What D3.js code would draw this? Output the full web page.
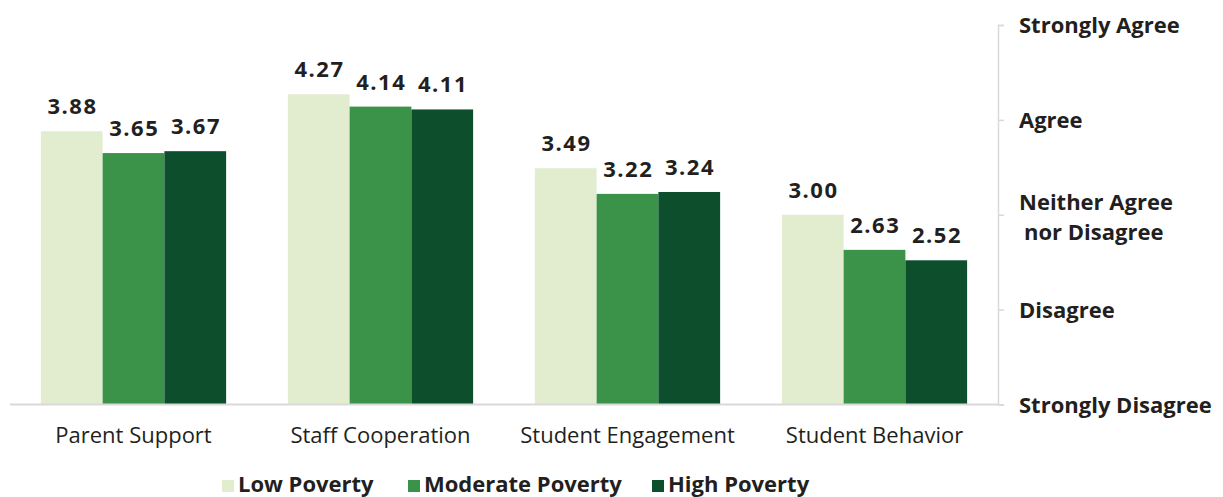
<!DOCTYPE html>
<html><head><meta charset="utf-8">
<script src="https://cdn.jsdelivr.net/npm/d3@7"></script>
<style>body{margin:0;background:#fff}svg{display:block}text{font-family:"Open Sans",sans-serif}</style>
</head><body><svg id="c" width="1223" height="497"></svg>
<script>
const categories = ["Parent Support","Staff Cooperation","Student Engagement","Student Behavior"];
const seriesNames = ["Low Poverty","Moderate Poverty","High Poverty"];
const lowPoverty = [3.88,4.27,3.49,3.00];
const moderatePoverty = [3.65,4.14,3.22,2.63];
const highPoverty = [3.67,4.11,3.24,2.52];
const tickValues = [1,2,3,4,5];
const tickLabels = ["Strongly Disagree","Disagree","Neither Agree\nnor Disagree","Agree","Strongly Agree"];
const colors = ["#e2edd0","#3b934a","#0d4f2d"];

const series = [lowPoverty, moderatePoverty, highPoverty];
const svg = d3.select("#c");
const x0 = d3.scaleBand().domain(categories).range([10,998]).paddingInner(0.25).paddingOuter(0.125);
const x1 = d3.scaleBand().domain(seriesNames).range([0,x0.bandwidth()]);
const y = d3.scaleLinear().domain([1,5]).range([404.5,25]);

const g = svg.append("g");
categories.forEach((c,i)=>{
  seriesNames.forEach((s,j)=>{
    const v = series[j][i];
    g.append("rect").attr("x",x0(c)+x1(s)).attr("y",y(v)).attr("width",x1.bandwidth()).attr("height",y(1)-y(v)).attr("fill",colors[j]);
    g.append("text").attr("x",x0(c)+x1(s)+x1.bandwidth()/2+0.75).attr("y",y(v)-17).attr("text-anchor","middle")
      .attr("font-size",22).attr("font-weight",700).attr("letter-spacing",1.5).attr("fill","#231f20").text(v.toFixed(2));
  });
});

svg.append("line").attr("x1",10).attr("x2",998).attr("y1",y(1)).attr("y2",y(1)).attr("stroke","#d9d9d9").attr("stroke-width",2);

const ax = svg.append("g").attr("transform","translate(998,0)").call(d3.axisRight(y).tickValues(tickValues).tickSize(6).tickFormat(""));
ax.select(".domain").attr("stroke","#d9d9d9").attr("stroke-width",1.5);
ax.selectAll(".tick line").attr("stroke","#d9d9d9").attr("stroke-width",1.5);
tickValues.forEach((t,i)=>{
  const lines = tickLabels[i].split("\n");
  lines.forEach((l,k)=>{
    const baseY = lines.length>1 ? y(t)-5 + k*30 : y(t)+8;
    svg.append("text").attr("x",1019 + (k>0?5:0)).attr("y",baseY).attr("font-size",22).attr("font-weight",700).attr("fill","#231f20").text(l);
  });
});

categories.forEach(c=>{
  svg.append("text").attr("x",x0(c)+x0.bandwidth()/2).attr("y",443).attr("text-anchor","middle").attr("font-size",22).attr("fill","#231f20").text(c);
});

const legX = [222,408,652];
seriesNames.forEach((s,j)=>{
  svg.append("rect").attr("x",legX[j]).attr("y",480).attr("width",12).attr("height",12).attr("fill",colors[j]);
  svg.append("text").attr("x",legX[j]+16).attr("y",492).attr("font-size",22).attr("font-weight",700).attr("fill","#231f20").text(s);
});
</script></body></html>
